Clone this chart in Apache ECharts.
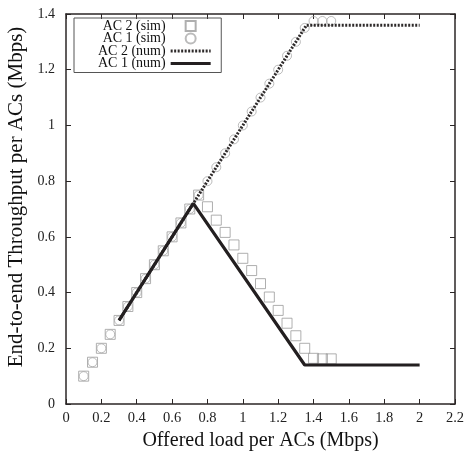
<!DOCTYPE html>
<html>
<head>
<meta charset="utf-8">
<script src="https://cdn.jsdelivr.net/npm/echarts@6/dist/echarts.min.js"></script>
<style>
  html, body { margin: 0; padding: 0; background: #fff; }
  #main { width: 465px; height: 457px; }
</style>
</head>
<body>
<div id="main"></div>
<script>
// simulation points (offered load, Mbps)
const simX = [0.1, 0.15, 0.2, 0.25, 0.3, 0.35, 0.4, 0.45, 0.5, 0.55, 0.6, 0.65, 0.7, 0.75,
  0.8, 0.85, 0.9, 0.95, 1.0, 1.05, 1.1, 1.15, 1.2, 1.25, 1.3, 1.35, 1.4, 1.45, 1.5]
const ac2Sim = [0.1, 0.15, 0.2, 0.25, 0.3, 0.35, 0.4, 0.45, 0.5, 0.55, 0.6, 0.65, 0.7, 0.75,
  0.708, 0.66, 0.616, 0.571, 0.523, 0.479, 0.432, 0.384, 0.336, 0.29, 0.245, 0.2, 0.164, 0.162, 0.162]
const ac1Sim = [0.1, 0.15, 0.2, 0.25, 0.3, 0.35, 0.4, 0.45, 0.5, 0.55, 0.6, 0.65, 0.7, 0.75,
  0.8, 0.85, 0.9, 0.95, 1.0, 1.05, 1.1, 1.15, 1.2, 1.25, 1.3, 1.35, 1.375, 1.375, 1.375]

// numerical curves
const ac2NumX = [0.3, 1.36, 2.0]
const ac2Num = [0.3, 1.36, 1.36]
const ac1NumX = [0.3, 0.72, 1.35, 2.0]
const ac1Num = [0.3, 0.72, 0.14, 0.14]

const seriesNames = ['AC 2 (sim)', 'AC 1 (sim)', 'AC 2 (num)', 'AC 1 (num)']

const pair = (xs, ys) => xs.map((x, i) => [x, ys[i]])

const FONT = "'Liberation Serif', 'Times New Roman', serif"
const AXIS_COLOR = '#2b2626'

const chart = echarts.init(document.getElementById('main'))

// shared axis look (gnuplot style: ticks inside, box frame)
const baseAxis = {
  axisLine: { show: true, onZero: false, lineStyle: { color: AXIS_COLOR, width: 1.5 } },
  axisTick: { show: true, inside: true, length: 5, lineStyle: { color: AXIS_COLOR, width: 1 } },
  splitLine: { show: false }
}

const option = {
  backgroundColor: '#fff',
  animation: false,
  textStyle: { fontFamily: FONT },
  grid: { left: 66, right: 10, top: 14, bottom: 53, outerBoundsMode: 'none' },
  legend: {
    data: [
      { name: seriesNames[0], icon: 'path://M0,0h10v10h-10z' },
      { name: seriesNames[1], icon: 'circle' },
      // line items: hide the symbol that ECharts puts in the middle
      { name: seriesNames[2], itemStyle: { opacity: 0 }, lineStyle: { width: 3 } },
      { name: seriesNames[3], itemStyle: { opacity: 0 }, lineStyle: { width: 3.2 } }
    ],
    orient: 'vertical',
    align: 'right',
    left: 74,
    top: 18,
    itemWidth: 40,
    itemHeight: 10,
    itemGap: -1.5,
    padding: [1, 9, 2, 24],
    borderColor: '#555',
    borderWidth: 1,
    textStyle: { fontFamily: FONT, fontSize: 14, color: '#111' }
  },
  xAxis: [
    Object.assign({}, baseAxis, {
      type: 'value',
      min: 0,
      max: 2.2,
      interval: 0.2,
      name: 'Offered load per ACs (Mbps)',
      nameLocation: 'middle',
      nameGap: 25,
      nameTextStyle: { fontFamily: FONT, fontSize: 20, color: '#111' },
      axisLabel: { fontFamily: FONT, fontSize: 14.5, color: '#222', margin: 7 }
    }),
    Object.assign({}, baseAxis, {
      type: 'value',
      position: 'top',
      min: 0,
      max: 2.2,
      interval: 0.2,
      axisLabel: { show: false }
    })
  ],
  yAxis: [
    Object.assign({}, baseAxis, {
      type: 'value',
      min: 0,
      max: 1.4,
      interval: 0.2,
      name: 'End-to-end Throughput per ACs (Mbps)',
      nameLocation: 'middle',
      nameGap: 35,
      nameTextStyle: { fontFamily: FONT, fontSize: 21, color: '#111', padding: [0, 0, 0, 24] },
      axisLabel: { fontFamily: FONT, fontSize: 14, color: '#222', margin: 11 }
    }),
    Object.assign({}, baseAxis, {
      type: 'value',
      position: 'right',
      min: 0,
      max: 1.4,
      interval: 0.2,
      axisLabel: { show: false }
    })
  ],
  series: [
    {
      name: seriesNames[0],
      type: 'scatter',
      symbol: 'rect',
      symbolSize: 10,
      itemStyle: { color: 'rgba(255,255,255,0)', borderColor: '#9b9b9b', borderWidth: 1 },
      data: pair(simX, ac2Sim)
    },
    {
      name: seriesNames[1],
      type: 'scatter',
      symbol: 'circle',
      symbolSize: 9,
      itemStyle: { color: 'rgba(255,255,255,0)', borderColor: '#aaaaaa', borderWidth: 1 },
      data: pair(simX, ac1Sim)
    },
    {
      name: seriesNames[2],
      type: 'line',
      symbol: 'none',
      lineStyle: { color: '#2e2a2a', width: 3, type: [2, 1.5] },
      itemStyle: { color: '#2e2a2a' },
      data: pair(ac2NumX, ac2Num)
    },
    {
      name: seriesNames[3],
      type: 'line',
      symbol: 'none',
      lineStyle: { color: '#231f20', width: 3.2, type: 'solid' },
      itemStyle: { color: '#231f20' },
      data: pair(ac1NumX, ac1Num)
    }
  ]
}

chart.setOption(option)
</script>
</body>
</html>
